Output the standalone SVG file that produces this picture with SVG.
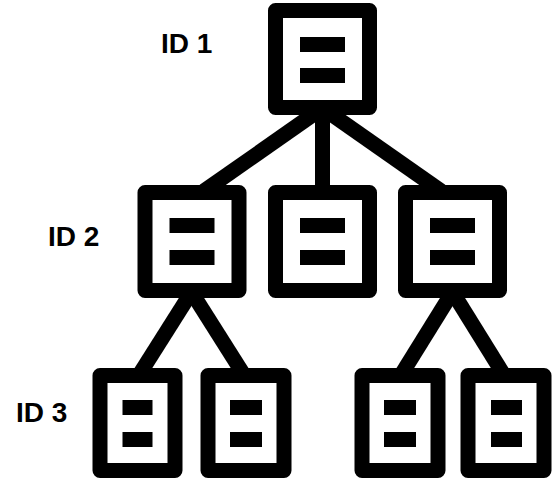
<svg xmlns="http://www.w3.org/2000/svg" width="558" height="481" viewBox="0 0 558 481">
  <style>
    .frame { fill: #fff; stroke: #000; stroke-width: 15; stroke-linejoin: round; }
    .bar { fill: #000; }
    .link { stroke: #000; stroke-width: 15; fill: none; }
    .lbl { font-family: "Liberation Sans", Arial, sans-serif; font-weight: bold; font-size: 28px; fill: #000; }
  </style>
  <rect width="558" height="481" fill="#fff"/>

  <g id="connectors">
    <line class="link" x1="322.5" y1="108" x2="204" y2="191"/>
    <line class="link" x1="322.5" y1="108" x2="322.5" y2="192"/>
    <line class="link" x1="322.5" y1="108" x2="441" y2="191"/>
    <line class="link" x1="191.5" y1="292" x2="139" y2="375"/>
    <line class="link" x1="191.5" y1="292" x2="244" y2="375"/>
    <line class="link" x1="452.5" y1="292" x2="401" y2="375"/>
    <line class="link" x1="452.5" y1="292" x2="504" y2="375"/>
  </g>

  <!-- level 1 -->
  <g id="n1">
    <rect class="frame" x="275.5" y="10.5" width="94" height="97"/>
    <rect class="bar" x="300" y="37" width="45" height="15"/>
    <rect class="bar" x="300" y="68" width="45" height="15"/>
  </g>

  <!-- level 2 -->
  <g id="n2a">
    <rect class="frame" x="145" y="192.5" width="94" height="98"/>
    <rect class="bar" x="169.5" y="218" width="45" height="15"/>
    <rect class="bar" x="169.5" y="250" width="45" height="15"/>
  </g>
  <g id="n2b">
    <rect class="frame" x="275.5" y="192.5" width="94" height="98"/>
    <rect class="bar" x="300" y="218" width="45" height="15"/>
    <rect class="bar" x="300" y="250" width="45" height="15"/>
  </g>
  <g id="n2c">
    <rect class="frame" x="405.5" y="192.5" width="94" height="98"/>
    <rect class="bar" x="430" y="218" width="45" height="15"/>
    <rect class="bar" x="430" y="250" width="45" height="15"/>
  </g>

  <!-- level 3 -->
  <g id="n3a">
    <rect class="frame" x="100" y="375.5" width="75" height="95"/>
    <rect class="bar" x="122.5" y="400" width="30" height="15"/>
    <rect class="bar" x="122.5" y="432" width="30" height="15"/>
  </g>
  <g id="n3b">
    <rect class="frame" x="208" y="375.5" width="76" height="95"/>
    <rect class="bar" x="230" y="400" width="32" height="15"/>
    <rect class="bar" x="230" y="432" width="32" height="15"/>
  </g>
  <g id="n3c">
    <rect class="frame" x="362" y="375.5" width="76" height="95"/>
    <rect class="bar" x="384" y="400" width="32" height="15"/>
    <rect class="bar" x="384" y="432" width="32" height="15"/>
  </g>
  <g id="n3d">
    <rect class="frame" x="468" y="375.5" width="76" height="95"/>
    <rect class="bar" x="491" y="400" width="31" height="15"/>
    <rect class="bar" x="491" y="432" width="31" height="15"/>
  </g>

  <g id="labels">
    <text class="lbl" x="161" y="53">ID 1</text>
    <text class="lbl" x="48" y="246">ID 2</text>
    <text class="lbl" x="16" y="422">ID 3</text>
  </g>
</svg>
